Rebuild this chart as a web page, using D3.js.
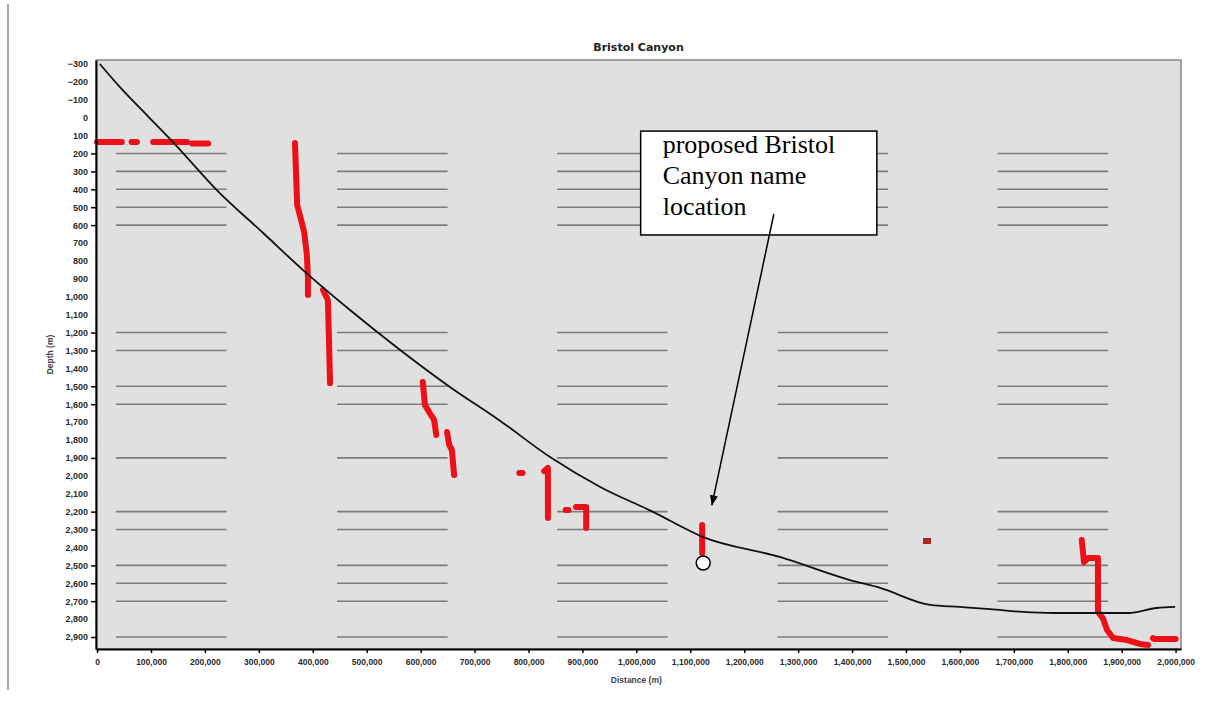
<!DOCTYPE html>
<html>
<head>
<meta charset="utf-8">
<script src="https://cdn.jsdelivr.net/npm/d3@7"></script>
<style>
  html, body { margin: 0; padding: 0; background: #ffffff; }
  svg { display: block; }
</style>
</head>
<body>
<svg id="chart" width="1213" height="709"></svg>
<script>
// ---------------- DATA ----------------
const chartTitle = "Bristol Canyon";
const xAxisTitle = "Distance (m)";
const yAxisTitle = "Depth (m)";

// x tick values (distance) and y tick values (depth)
const xTickValues = [0,100000,200000,300000,400000,500000,600000,700000,800000,900000,1000000,
  1100000,1200000,1300000,1400000,1500000,1600000,1700000,1800000,1900000,2000000];
const yTickValues = [-300,-200,-100,0,100,200,300,400,500,600,700,800,900,1000,1100,1200,1300,
  1400,1500,1600,1700,1800,1900,2000,2100,2200,2300,2400,2500,2600,2700,2800,2900];

// gray reference line depths and their distance bands
const gridDepths = [200,300,400,500,600,1200,1300,1500,1600,1900,2200,2300,2500,2600,2700,2900];
const gridBandStart = [35000, 445000, 853000, 1262000, 1670000];
const gridBandEnd   = [240000, 650000, 1058000, 1467000, 1875000];

// black profile line
const profileX = [5000,42000,95000,145000,222000,308000,382000,469000,
  562000,655000,747000,840000,933000,1030000,1124000,1266000,1396000,1452000,1545000,1600000,
  1656000,1717000,1773000,1912000,1965000,1999000];
const profileDepth = [-300,-172,-6,150,404,644,851,1074,
  1297,1505,1692,1895,2062,2200,2342,2453,2582,2626,2721,2732,
  2744,2760,2766,2766,2738,2732];

// red sounding track (null = gap)
const redX = [
  0,46000,null, 64000,74000,null, 104000,167000,null, 176000,206000,null,
  367000,371000,376000,384000,389000,391000,391000,null,
  419000,428000,430000,432000,null,
  604000,608000,619000,625000,629000,null,
  649000,653000,658000,662000,null,
  783000,789000,null,
  829000,836000,836000,null,
  869000,874000,null,
  888000,907000,907000,null,
  1122000,1122000,null,
  1826000,1830000,1838000,1856000,1856000,1865000,1873000,1884000,1910000,1934000,1949000,null,
  1958000,1960000,2000000
];
const redDepth = [
  136,136,null, 136,136,null, 136,136,null, 144,144,null,
  141,488,544,638,767,890,990,null,
  962,1018,1242,1482,null,
  1476,1604,1660,1688,1772,null,
  1755,1828,1856,1995,null,
  1984,1984,null,
  1973,1956,2236,null,
  2191,2191,null,
  2174,2174,2291,null,
  2275,2431,null,
  2358,2481,2459,2459,2760,2794,2861,2906,2917,2939,2945,null,
  2906,2911,2911
];
// isolated darker sounding
const soloX = [1539000];
const soloDepth = [2364];

// annotation (data coordinates)
const noteLines = ["proposed Bristol", "Canyon name", "location"];
const noteBoxX = [1008000, 1446000];
const noteBoxDepth = [75, 655];
const arrowFrom = [1255000, 538];
const arrowTo = [1140000, 2165];
const markerPoint = [1124000, 2487];

// ---------------- DRAW ----------------
const svg = d3.select("#chart");
const x = d3.scaleLinear().domain([-2000, 2010000]).range([96, 1181]);
const y = d3.scaleLinear().domain([-322, 2967]).range([60, 649]);

// page left border
svg.append("line").attr("x1", 8).attr("x2", 8).attr("y1", 4).attr("y2", 690)
  .attr("stroke", "#a8a8a8").attr("stroke-width", 2);

// plot background & frame
svg.append("rect").attr("x", x.range()[0]).attr("y", y.range()[0])
  .attr("width", x.range()[1] - x.range()[0]).attr("height", y.range()[1] - y.range()[0])
  .attr("fill", "#e0e0e0").attr("stroke", "#858585").attr("stroke-width", 1.5);

// gray reference lines
const gridData = [];
gridDepths.forEach(d => gridBandStart.forEach((s, i) => gridData.push({d, s, e: gridBandEnd[i]})));
svg.append("g").selectAll("line").data(gridData).join("line")
  .attr("x1", g => x(g.s)).attr("x2", g => x(g.e))
  .attr("y1", g => y(g.d)).attr("y2", g => y(g.d))
  .attr("stroke", "#7c7c7c").attr("stroke-width", 1.6);

// red track
const redPts = redX.map((v, i) => ({x: v, d: redDepth[i]}));
svg.append("path").datum(redPts)
  .attr("d", d3.line().defined(p => p.x !== null && p.d !== null).x(p => x(p.x)).y(p => y(p.d)))
  .attr("fill", "none").attr("stroke", "#ec1018").attr("stroke-width", 6)
  .attr("stroke-linecap", "round").attr("stroke-linejoin", "round");

svg.append("g").selectAll("rect").data(soloX.map((v, i) => ({x: v, d: soloDepth[i]}))).join("rect")
  .attr("x", p => x(p.x) - 4).attr("y", p => y(p.d) - 3).attr("width", 8).attr("height", 6)
  .attr("fill", "#b0222c");

// profile line
const profPts = profileX.map((v, i) => ({x: v, d: profileDepth[i]}));
svg.append("path").datum(profPts)
  .attr("d", d3.line().curve(d3.curveMonotoneX).x(p => x(p.x)).y(p => y(p.d)))
  .attr("fill", "none").attr("stroke", "#111").attr("stroke-width", 1.8);

// axes
const fmt = d3.format(",");
const xAxis = svg.append("g").attr("transform", `translate(0,${y.range()[1]})`)
  .call(d3.axisBottom(x).tickValues(xTickValues).tickFormat(fmt).tickSize(4).tickSizeOuter(0));
xAxis.select(".domain").attr("stroke", "#000").attr("stroke-width", 2);
xAxis.selectAll(".tick line").attr("stroke", "#000").attr("stroke-width", 1.5);
xAxis.selectAll(".tick text").attr("font-family", "Liberation Sans, Arial, sans-serif")
  .attr("font-size", 8.5).attr("font-weight", "bold").attr("fill", "#2a2a2a").attr("dy", "1.1em");

const yAxis = svg.append("g").attr("transform", `translate(${x.range()[0]},0)`)
  .call(d3.axisLeft(y).tickValues(yTickValues).tickFormat(fmt).tickSize(0).tickPadding(8).tickSizeOuter(0));
yAxis.select(".domain").attr("stroke", "#000").attr("stroke-width", 2);
yAxis.selectAll(".tick text").attr("font-family", "Liberation Sans, Arial, sans-serif")
  .attr("font-size", 9).attr("font-weight", "bold").attr("fill", "#2a2a2a");
// small ticks only at reference-line depths
yAxis.selectAll(".tick").filter(d => gridDepths.includes(d)).append("line")
  .attr("x1", -5).attr("x2", 0).attr("stroke", "#000").attr("stroke-width", 1.5);

// titles
svg.append("text").attr("x", (x.range()[0] + x.range()[1]) / 2).attr("y", 51)
  .attr("text-anchor", "middle").attr("font-family", "DejaVu Sans, Verdana, sans-serif")
  .attr("font-size", 11).attr("font-weight", "bold").attr("fill", "#222").text(chartTitle);
svg.append("text").attr("x", x(1000000)).attr("y", 683)
  .attr("text-anchor", "middle").attr("font-family", "Liberation Sans, Arial, sans-serif")
  .attr("font-size", 8.5).attr("font-weight", "bold").attr("fill", "#444").text(xAxisTitle);
svg.append("text").attr("transform", `translate(53,${(y.range()[0] + y.range()[1]) / 2}) rotate(-90)`)
  .attr("text-anchor", "middle").attr("font-family", "Liberation Sans, Arial, sans-serif")
  .attr("font-size", 8.5).attr("font-weight", "bold").attr("fill", "#444").text(yAxisTitle);

// annotation
const defs = svg.append("defs");
defs.append("marker").attr("id", "arrowhead").attr("viewBox", "0 0 10 10")
  .attr("refX", 10).attr("refY", 5).attr("markerWidth", 10).attr("markerHeight", 10)
  .attr("markerUnits", "userSpaceOnUse").attr("orient", "auto")
  .append("path").attr("d", "M0,1 L10,5 L0,9 Z").attr("fill", "#000");

const bx0 = x(noteBoxX[0]), bx1 = x(noteBoxX[1]), by0 = y(noteBoxDepth[0]), by1 = y(noteBoxDepth[1]);
svg.append("rect").attr("x", bx0).attr("y", by0).attr("width", bx1 - bx0).attr("height", by1 - by0)
  .attr("fill", "#fff").attr("stroke", "#000").attr("stroke-width", 1.5);
svg.append("g").selectAll("text").data(noteLines).join("text")
  .attr("x", bx0 + 22).attr("y", (d, i) => by0 + 22 + i * 31)
  .attr("font-family", "Liberation Serif, Times New Roman, serif").attr("font-size", 26)
  .attr("fill", "#000").text(d => d);

svg.append("line")
  .attr("x1", x(arrowFrom[0])).attr("y1", y(arrowFrom[1]))
  .attr("x2", x(arrowTo[0])).attr("y2", y(arrowTo[1]))
  .attr("stroke", "#000").attr("stroke-width", 1.5).attr("marker-end", "url(#arrowhead)");

svg.append("circle").attr("cx", x(markerPoint[0])).attr("cy", y(markerPoint[1])).attr("r", 7)
  .attr("fill", "#fff").attr("stroke", "#000").attr("stroke-width", 1.5);
</script>
</body>
</html>
